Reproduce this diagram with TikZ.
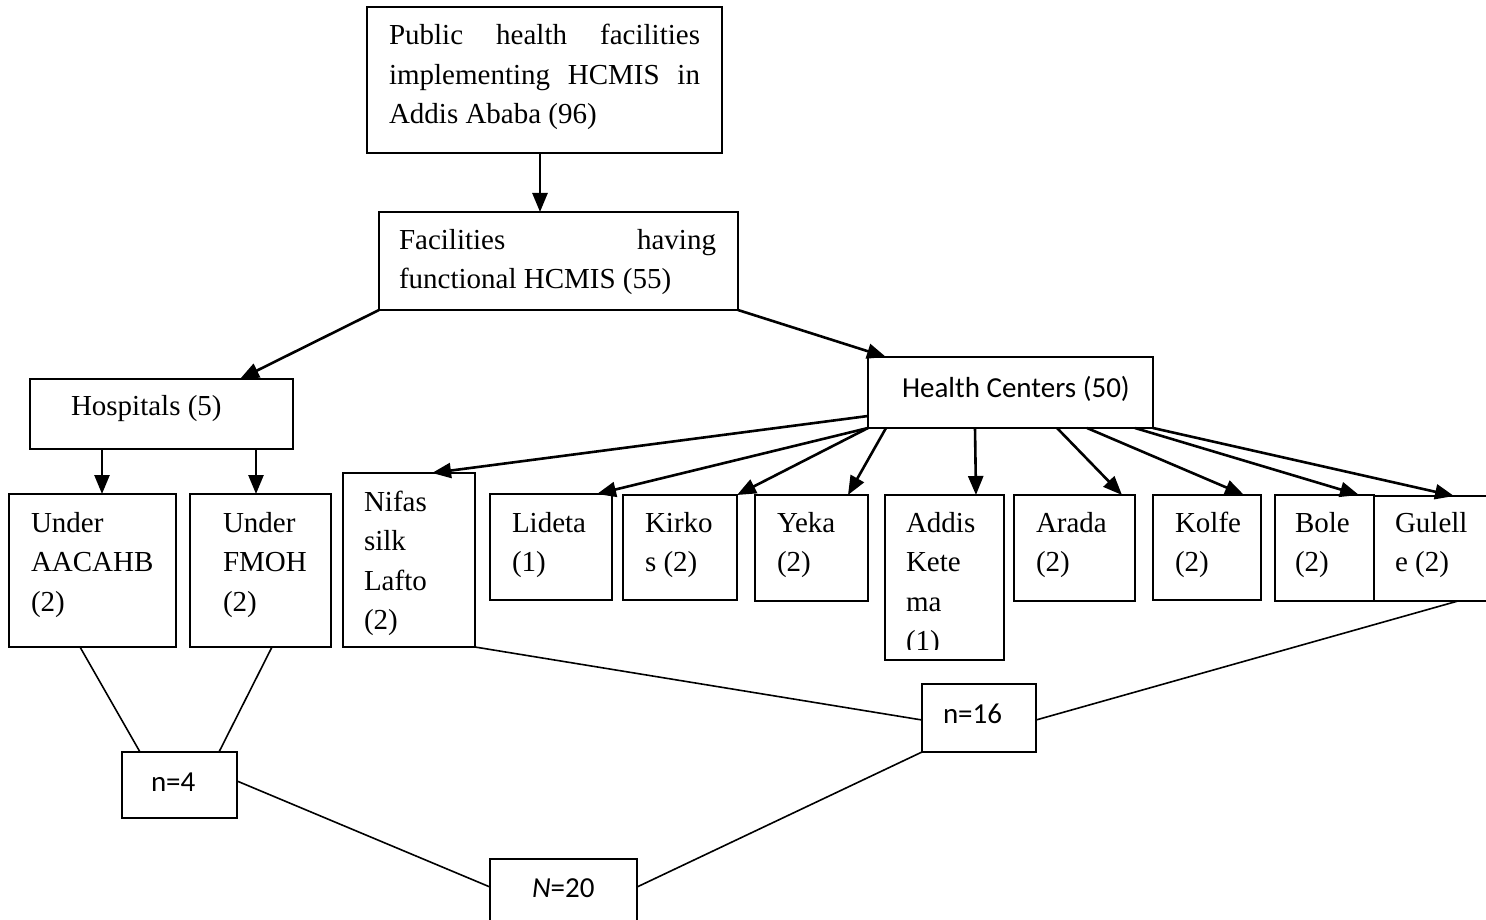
\documentclass[tikz,border=0pt]{standalone}
\usepackage{fontspec}
\setmainfont{Liberation Serif}
\newfontfamily\carl{Carlito}
\usetikzlibrary{arrows.meta,calc}
\newcommand\serifsz{\fontsize{29}{39.5}\selectfont}
\newcommand\sanssz{\carl\fontsize{29}{39.5}\selectfont}
\newcommand\bx[5]{\node[box, minimum width=#4-#2, minimum height=#5-#3] (#1) at (#2,#3) {};}
\newcommand\tx[5]{\node[#2] (#1) at (#3,#4-27.65) {\strut #5};}
\begin{document}
\begin{tikzpicture}[x=1pt,y=-1pt,
  box/.style={draw, line width=1.8pt, rectangle, inner sep=0pt, outer sep=0pt, anchor=north west},
  txt/.style={anchor=north west, inner sep=0pt, outer sep=0pt, align=left, font=\serifsz},
  stxt/.style={txt, font=\sanssz},
  arr/.style={line width=2.6pt, -{Triangle[length=19pt,width=15pt]}},
  conn/.style={line width=1.6pt}]
\useasboundingbox[fill=white] (0,0) rectangle (1486,920);
% boxes
\bx{top}{367}{7}{722}{153}
\bx{fac}{379}{212}{738}{310}
\bx{hosp}{30}{379}{293}{449}
\bx{hc}{868}{357}{1153}{428}
\bx{aac}{9}{494}{176}{647}
\bx{fmoh}{190}{494}{331}{647}
\bx{nifas}{343}{473}{475}{647}
\bx{lideta}{490}{494}{612}{600}
\bx{kirkos}{623}{495}{737}{600}
\bx{yeka}{755}{495}{868}{601}
\bx{addis}{885}{495}{1004}{660}
\bx{arada}{1014}{495}{1135}{601}
\bx{kolfe}{1153}{495}{1261}{600}
\bx{bole}{1275}{495}{1374}{601}
\bx{gulelle}{1374}{496}{1510}{601}
\bx{nfour}{122}{752}{237}{818}
\bx{nsixteen}{922}{684}{1036}{752}
\bx{ntwenty}{490}{859}{637}{940}
% texts
\tx{topt}{txt}{389}{45}{\makebox[311pt][s]{Public health facilities}\\\makebox[311pt][s]{implementing HCMIS in}\\Addis Ababa (96)}
\tx{fact}{txt}{399}{249}{\makebox[317pt][s]{Facilities having}\\functional HCMIS (55)}
\tx{hospt}{txt}{71}{415}{Hospitals (5)}
\tx{hct}{stxt}{902}{397}{Health Centers (50)}
\tx{aact}{txt}{31}{532}{Under\\AACAHB\\(2)}
\tx{fmoht}{txt}{223}{532}{Under\\FMOH\\(2)}
\tx{nifast}{txt}{364}{511}{Nifas\\silk\\Lafto\\(2)}
\tx{lidetat}{txt}{512}{532}{Lideta\\(1)}
\tx{kirkost}{txt}{645}{532}{Kirko\\s (2)}
\tx{yekat}{txt}{777}{532}{Yeka\\(2)}
\begin{scope}
\clip (885,495) rectangle (1004,649);
\tx{addist}{txt}{906}{532}{Addis\\Kete\\ma\\(1)}
\end{scope}
\tx{aradat}{txt}{1036}{532}{Arada\\(2)}
\tx{kolfet}{txt}{1175}{532}{Kolfe\\(2)}
\tx{bolet}{txt}{1295}{532}{Bole\\(2)}
\tx{gulellet}{txt}{1395}{532}{Gulell\\e (2)}
\tx{nfourt}{stxt}{151}{791}{n=4}
\tx{nsixteent}{stxt}{943}{723}{n=16}
\tx{ntwentyt}{stxt}{532}{897}{{\itshape N}=20}
% arrows
\draw[arr] ($(top.south west)+(173,0)$) -- ($(fac.north west)+(161,0)$);
\draw[arr] (fac.south west) -- ($(hosp.north west)+(210,0)$);
\draw[arr] (fac.south east) -- ($(hc.north west)+(18,0)$);
\draw[arr] ($(hosp.south west)+(72,0)$) -- ($(aac.north west)+(93,0)$);
\draw[arr] ($(hosp.south west)+(226,0)$) -- ($(fmoh.north west)+(66,0)$);
\draw[arr] ($(hc.north west)+(0,59)$) -- ($(nifas.north west)+(89,0)$);
\draw[arr] (hc.south west) -- ($(lideta.north west)+(107,0)$);
\draw[arr] (hc.south west) -- (kirkos.north east);
\draw[arr] ($(hc.south west)+(18,0)$) -- ($(yeka.north west)+(93,0)$);
\draw[arr] ($(hc.south west)+(107,0)$) -- ($(addis.north west)+(91,0)$);
\draw[arr] ($(hc.south west)+(189,0)$) -- ($(arada.north west)+(108,0)$);
\draw[arr] ($(hc.south west)+(219,0)$) -- ($(kolfe.north west)+(91,0)$);
\draw[arr] ($(hc.south west)+(267,0)$) -- ($(bole.north west)+(84,0)$);
\draw[arr] (hc.south east) -- ($(gulelle.north west)+(80,0)$);
% connectors
\draw[conn] ($(aac.south west)+(71,0)$) -- ($(nfour.north west)+(18,0)$);
\draw[conn] ($(fmoh.south west)+(82,0)$) -- ($(nfour.north west)+(97,0)$);
\draw[conn] ($(nfour.north east)+(0,29)$) -- ($(ntwenty.north west)+(0,28)$);
\draw[conn] ($(ntwenty.north east)+(0,28)$) -- (nsixteen.south west);
\draw[conn] (nifas.south east) -- ($(nsixteen.north west)+(0,36)$);
\draw[conn] ($(gulelle.south west)+(84,0)$) -- ($(nsixteen.north east)+(0,36)$);
\end{tikzpicture}
\end{document}
